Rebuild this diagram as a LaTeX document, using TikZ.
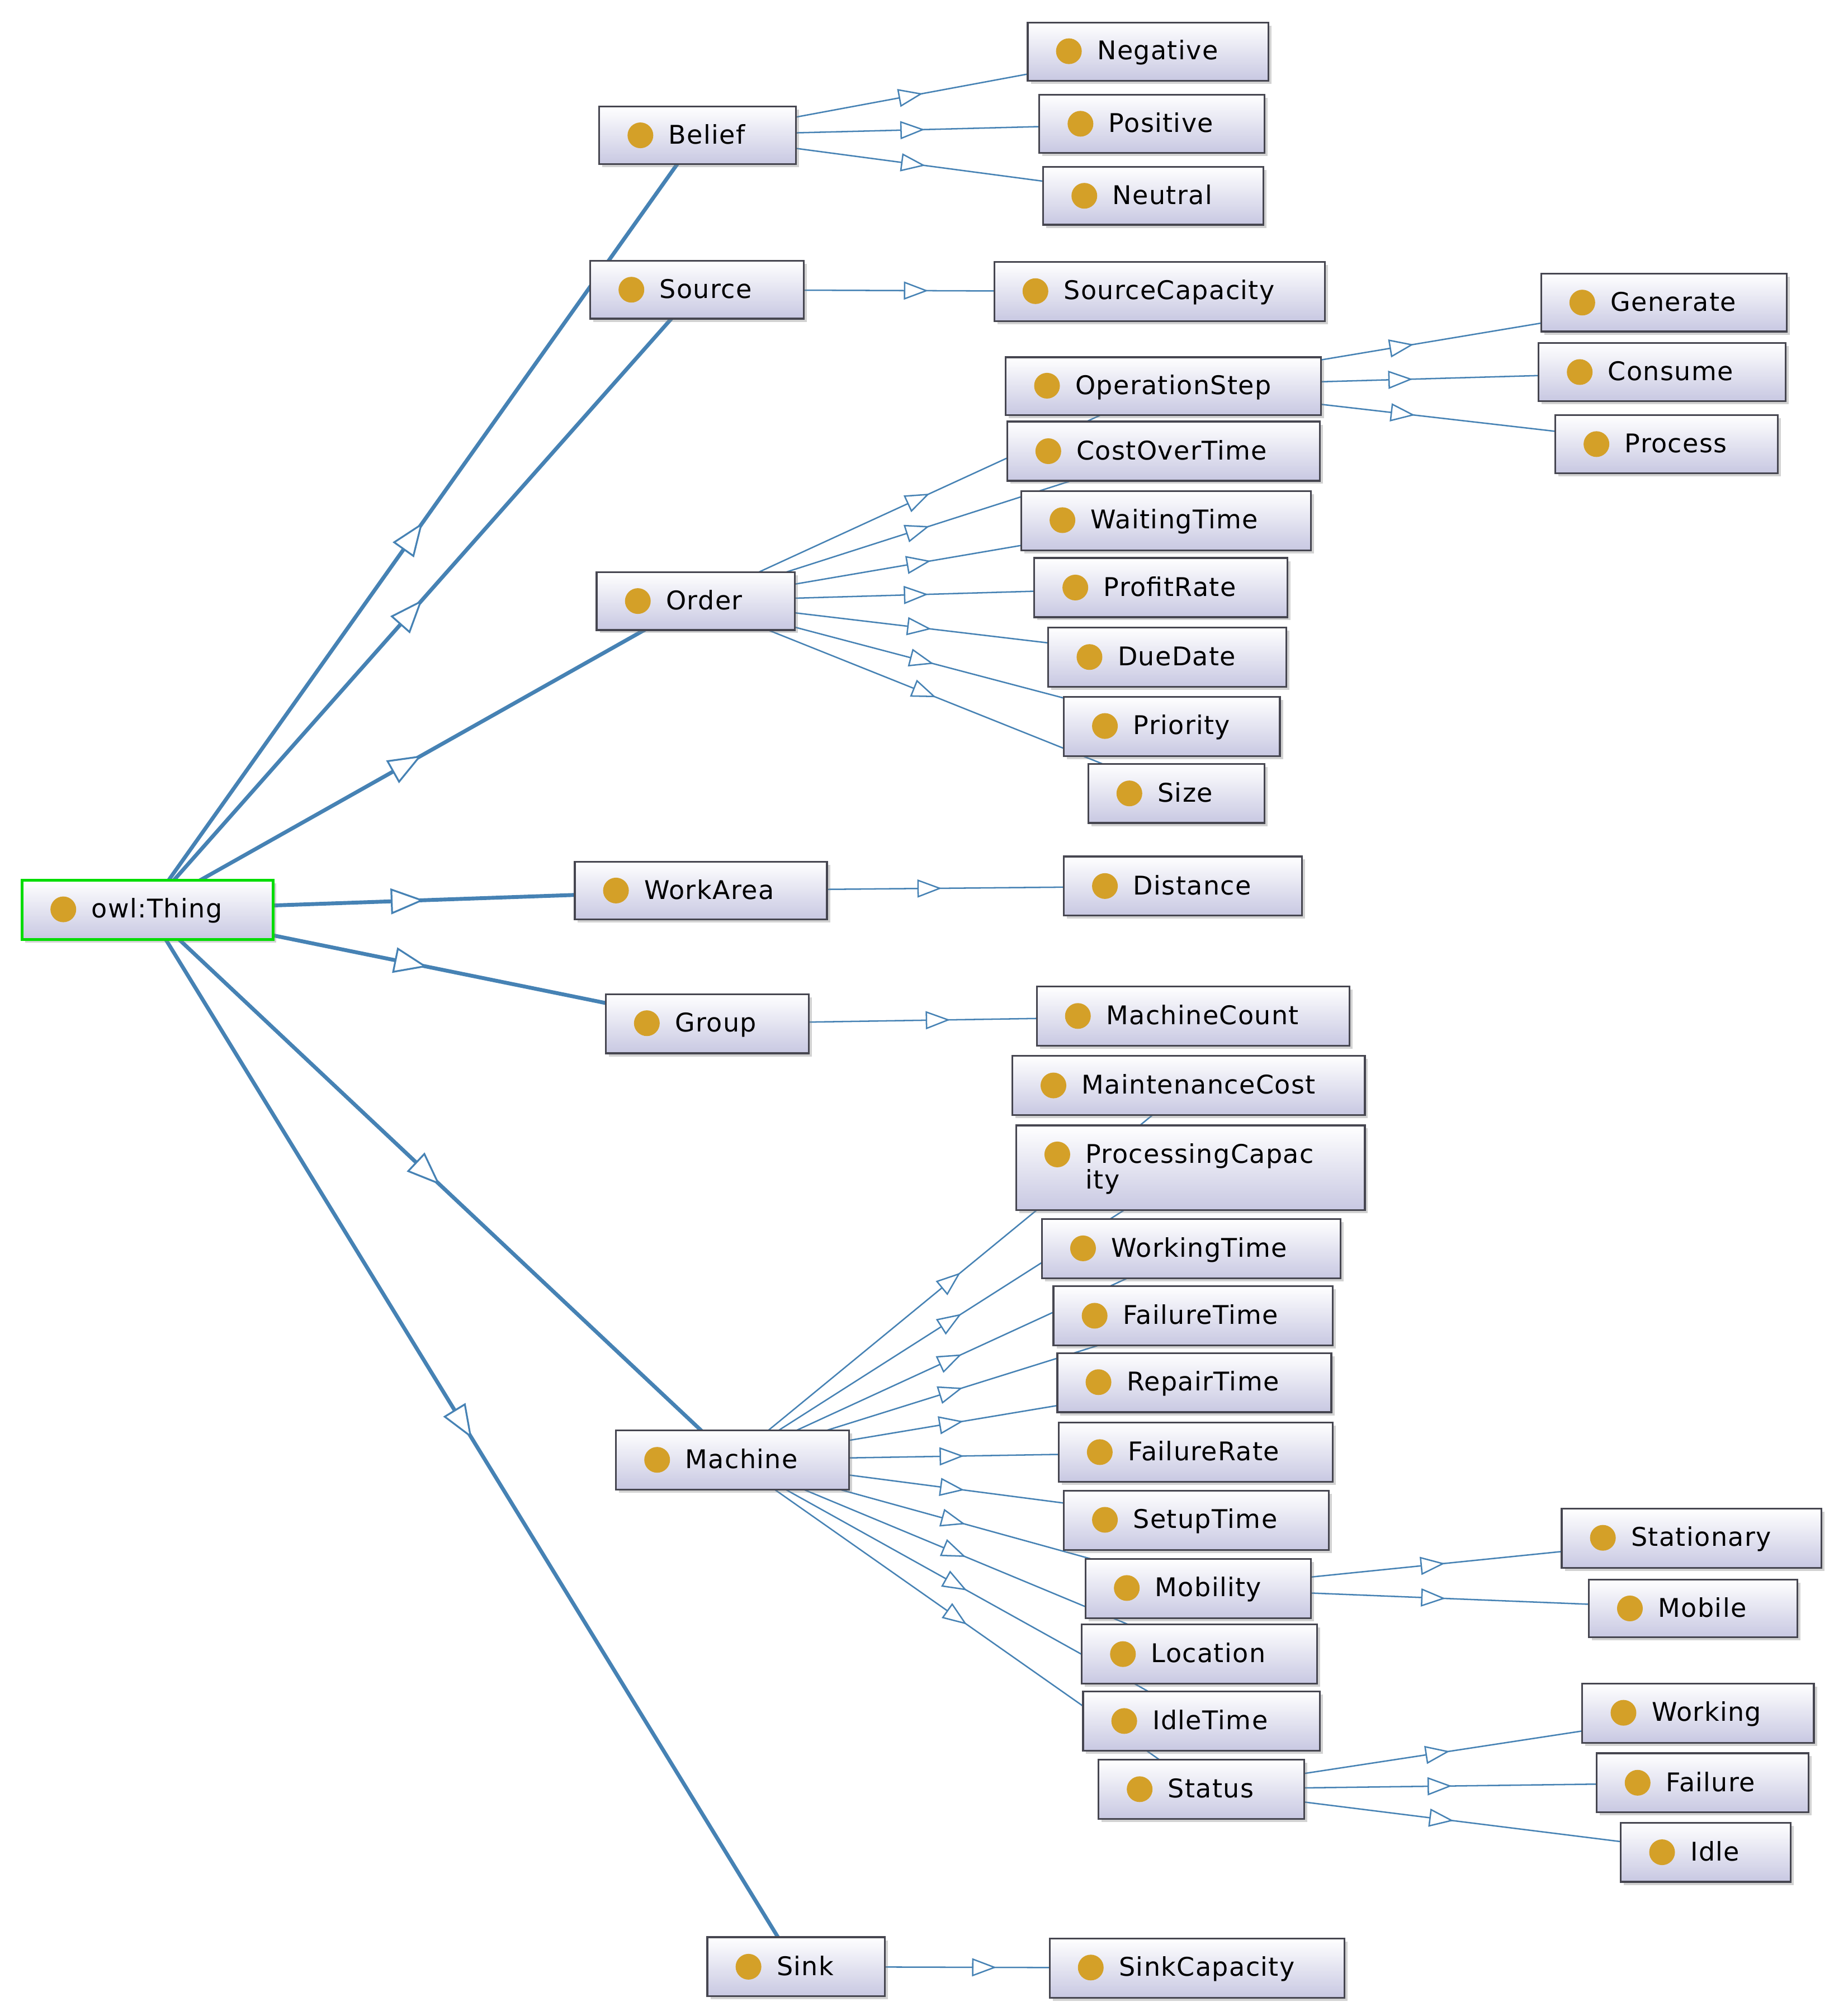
\documentclass[tikz,border=0pt]{standalone}
\usepackage{fontspec}
\setmainfont{DejaVu Sans}[LetterSpace=3]
\usetikzlibrary{arrows.meta,decorations.markings,shadows}
\pgfdeclarelayer{background}
\pgfdeclarelayer{paper}
\pgfsetlayers{paper,background,main}
\definecolor{edgeblue}{RGB}{70,130,180}
\definecolor{dotgold}{RGB}{212,160,40}
\definecolor{boxbot}{RGB}{200,200,226}
\tikzset{
  cls/.style={rectangle, draw={rgb,255:red,70;green,70;blue,80}, line width=0.7pt,
    top color=white, bottom color=boxbot, anchor=north west, inner xsep=6pt, inner ysep=0pt,
    align=left, font=\fontsize{10}{11}\selectfont,
    drop shadow={shadow xshift=1.2pt, shadow yshift=-1.2pt, opacity=0.35}},
  thin/.style={draw=edgeblue, line width=0.55pt, postaction=decorate,
    decoration={markings, mark=at position 0.5 with {\arrow{Triangle[open,fill=white,length=9.5pt,width=7pt]}}}},
  thick/.style={draw=edgeblue, line width=1.5pt, postaction=decorate,
    decoration={markings, mark=at position 0.5 with {\arrow{Triangle[open,fill=white,length=13pt,width=10pt,line width=0.7pt]}}}},
}
\newcommand{\gdot}{\tikz[baseline=-3.3pt]\fill[dotgold] (0,0) circle (5pt);}
\newcommand{\cls}[6][]{\node[cls,#1, minimum width={(#4-#2)*0.5pt}, minimum height={(#5-#3)*0.5pt},
   text width={(#4-#2)*0.5pt-12pt}] (#6) at (#2,#3) {\hspace{5pt}\gdot\hspace{6pt}#6};}
\begin{document}
\begin{tikzpicture}[x=0.5pt,y=-0.5pt]
\useasboundingbox (0,0) rectangle (1425,1567);
\begin{pgfonlayer}{paper}
\fill[white] (0,0) rectangle (1425,1567);
\end{pgfonlayer}
\node[cls, draw={rgb,255:red,0;green,220;blue,0}, line width=1.2pt, minimum width=97.5pt, minimum height=23pt, text width=85.5pt] (Thing) at (16,683) {\hspace{5pt}\gdot\hspace{6pt}owl:Thing};
\cls{465}{82}{618}{127}{Belief}
\cls{458}{202}{624}{247}{Source}
\cls{463}{444}{617}{489}{Order}
\cls{446}{669}{642}{714}{WorkArea}
\cls{470}{772}{628}{818}{Group}
\cls{478}{1111}{659}{1157}{Machine}
\cls{549}{1505}{687}{1551}{Sink}
\cls{798}{17}{985}{62}{Negative}
\cls{807}{73}{982}{118}{Positive}
\cls{810}{129}{981}{174}{Neutral}
\cls{772}{203}{1029}{249}{SourceCapacity}
\cls{1197}{212}{1388}{257}{Generate}
\cls{1195}{266}{1387}{311}{Consume}
\cls{1208}{322}{1381}{367}{Process}
\cls{782}{327}{1025}{373}{CostOverTime}
\cls{781}{277}{1026}{322}{OperationStep}
\cls{793}{381}{1018}{427}{WaitingTime}
\cls{803}{433}{1000}{479}{ProfitRate}
\cls{814}{487}{999}{533}{DueDate}
\cls{826}{541}{994}{587}{Priority}
\cls{845}{593}{982}{639}{Size}
\cls{826}{665}{1011}{711}{Distance}
\cls{805}{766}{1048}{812}{MachineCount}
\cls{786}{820}{1060}{866}{MaintenanceCost}
\node[cls, minimum width=135.5pt, minimum height=33pt, text width=123.5pt] (ProcessingCapacity) at (789,874) {\hspace{5pt}\gdot\hspace{6pt}ProcessingCapac\\[-1pt]\hspace{21pt}ity};
\cls{809}{947}{1041}{993}{WorkingTime}
\cls{818}{999}{1035}{1045}{FailureTime}
\cls{821}{1051}{1034}{1097}{RepairTime}
\cls{822}{1105}{1035}{1151}{FailureRate}
\cls{826}{1158}{1032}{1204}{SetupTime}
\cls{841}{1314}{1025}{1360}{IdleTime}
\cls{840}{1262}{1023}{1308}{Location}
\cls{843}{1211}{1018}{1257}{Mobility}
\cls{853}{1367}{1013}{1413}{Status}
\cls{1213}{1172}{1415}{1218}{Stationary}
\cls{1234}{1227}{1396}{1272}{Mobile}
\cls{1229}{1308}{1409}{1354}{Working}
\cls{1240}{1362}{1405}{1408}{Failure}
\cls{1259}{1416}{1391}{1462}{Idle}
\cls{815}{1506}{1044}{1552}{SinkCapacity}
\begin{pgfonlayer}{background}
\foreach \c in {Belief,Source,Order,WorkArea,Group,Machine,Sink}
  \draw[thick] (Thing.center) -- (\c.center);
\foreach \c in {Negative,Positive,Neutral} \draw[thin] (Belief.center) -- (\c.center);
\draw[thin] (Source.center) -- (SourceCapacity.center);
\foreach \c in {Generate,Consume,Process} \draw[thin] (OperationStep.center) -- (\c.center);
\foreach \c in {OperationStep,CostOverTime,WaitingTime,ProfitRate,DueDate,Priority,Size}
  \draw[thin] (Order.center) -- (\c.center);
\draw[thin] (WorkArea.center) -- (Distance.center);
\draw[thin] (Group.center) -- (MachineCount.center);
\foreach \c in {MaintenanceCost,ProcessingCapacity,WorkingTime,FailureTime,RepairTime,FailureRate,SetupTime,Mobility,Location,IdleTime,Status}
  \draw[thin] (Machine.center) -- (\c.center);
\foreach \c in {Stationary,Mobile} \draw[thin] (Mobility.center) -- (\c.center);
\foreach \c in {Working,Failure,Idle} \draw[thin] (Status.center) -- (\c.center);
\draw[thin] (Sink.center) -- (SinkCapacity.center);
\end{pgfonlayer}
\end{tikzpicture}
\end{document}
